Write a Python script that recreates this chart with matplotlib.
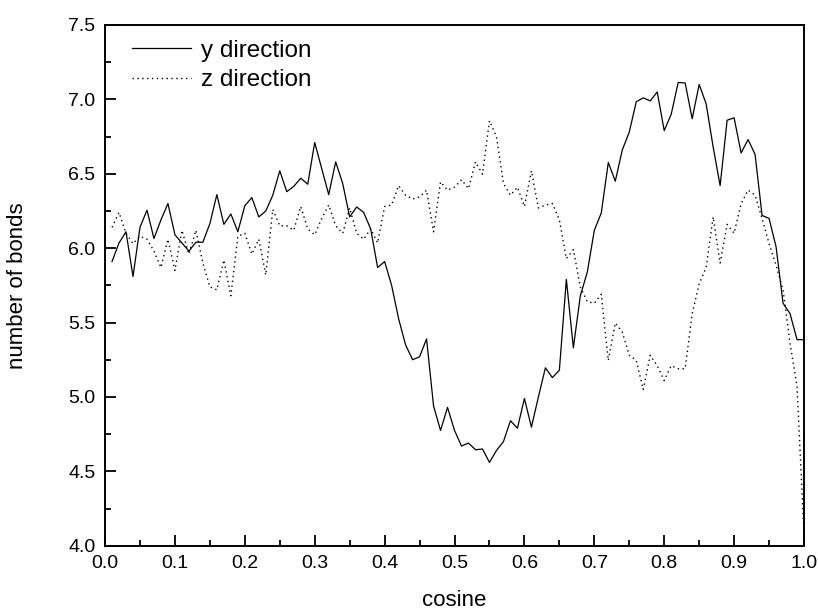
import numpy as np
import matplotlib
matplotlib.use("Agg")
import matplotlib.pyplot as plt
from matplotlib.ticker import MultipleLocator

plt.rcParams['font.family'] = ['Liberation Sans', 'DejaVu Sans']

# cosine values 0.01 .. 1.00
cosine = np.round(np.arange(1, 101) * 0.01, 2)

yDirection = [
    5.91, 6.035, 6.11, 5.81, 6.14, 6.255, 6.065, 6.19, 6.30, 6.09,
    6.035, 5.98, 6.04, 6.04, 6.165, 6.36, 6.16, 6.23, 6.11, 6.285,
    6.34, 6.21, 6.25, 6.356, 6.52, 6.38, 6.415, 6.47, 6.43, 6.71,
    6.535, 6.36, 6.58, 6.435, 6.21, 6.277, 6.24, 6.13, 5.87, 5.91,
    5.75, 5.526, 5.35, 5.25, 5.27, 5.39, 4.94, 4.775, 4.93, 4.775,
    4.67, 4.69, 4.645, 4.65, 4.56, 4.64, 4.70, 4.84, 4.79, 4.99,
    4.797, 5.0, 5.196, 5.13, 5.18, 5.79, 5.33, 5.68, 5.84, 6.12,
    6.237, 6.576, 6.45, 6.66, 6.78, 6.984, 7.01, 6.99, 7.05, 6.79,
    6.90, 7.114, 7.11, 6.87, 7.10, 6.97, 6.68, 6.42, 6.86, 6.876,
    6.64, 6.73, 6.63, 6.22, 6.20, 6.01, 5.63, 5.56, 5.385, 5.385,
]

zDirection = [
    6.14, 6.24, 6.10, 6.03, 6.08, 6.06, 5.98, 5.87, 6.06, 5.85,
    6.12, 5.96, 6.12, 5.90, 5.74, 5.72, 5.92, 5.68, 6.08, 6.10,
    5.96, 6.06, 5.82, 6.26, 6.15, 6.15, 6.12, 6.28, 6.13, 6.09,
    6.20, 6.29, 6.15, 6.10, 6.27, 6.10, 6.06, 6.13, 6.035, 6.28,
    6.29, 6.42, 6.356, 6.33, 6.345, 6.39, 6.11, 6.445, 6.39, 6.41,
    6.46, 6.40, 6.58, 6.497, 6.856, 6.75, 6.435, 6.356, 6.41, 6.28,
    6.52, 6.27, 6.29, 6.30, 6.19, 5.93, 5.99, 5.74, 5.64, 5.63,
    5.69, 5.245, 5.497, 5.436, 5.28, 5.245, 5.05, 5.28, 5.21, 5.11,
    5.21, 5.19, 5.19, 5.56, 5.76, 5.87, 6.21, 5.90, 6.16, 6.10,
    6.30, 6.39, 6.356, 6.20, 6.03, 5.885, 5.72, 5.36, 5.07, 4.08,
]

fig = plt.figure(figsize=(8.18, 6.14), dpi=100)
ax = fig.add_axes([0.1284, 0.1112, 0.8545, 0.8481])

ax.plot(cosine, yDirection, color="black", linewidth=0.9, label="y direction")
ax.plot(cosine, zDirection, color="black", linewidth=1.0, linestyle=(0, (1, 2.5)),
        label="z direction")

ax.set_xlim(0.0, 1.0)
ax.set_ylim(4.0, 7.5)
ax.xaxis.set_major_locator(MultipleLocator(0.1))
ax.xaxis.set_minor_locator(MultipleLocator(0.05))
ax.yaxis.set_major_locator(MultipleLocator(0.5))
ax.yaxis.set_minor_locator(MultipleLocator(0.25))
ax.xaxis.set_major_formatter(matplotlib.ticker.FormatStrFormatter("%.1f"))
ax.yaxis.set_major_formatter(matplotlib.ticker.FormatStrFormatter("%.1f"))

ax.tick_params(which="both", direction="in", top=False, right=False,
               labelsize=14, width=1.3)
ax.tick_params(which="major", length=8, pad=7)
ax.tick_params(which="minor", length=4.5)
for s in ax.spines.values():
    s.set_linewidth(1.4)

ax.set_xlabel("cosine", fontsize=16)
ax.set_ylabel("number of bonds", fontsize=16)
ax.xaxis.set_label_coords(0.5, -0.085)
ax.yaxis.set_label_coords(-0.11, 0.5)

ax.legend(loc="upper left", bbox_to_anchor=(0.025, 0.99), frameon=False,
          fontsize=17.5, handlelength=2.4, handletextpad=0.45,
          labelspacing=0.3, borderaxespad=0.0)

fig.savefig("out.png", dpi=100)
